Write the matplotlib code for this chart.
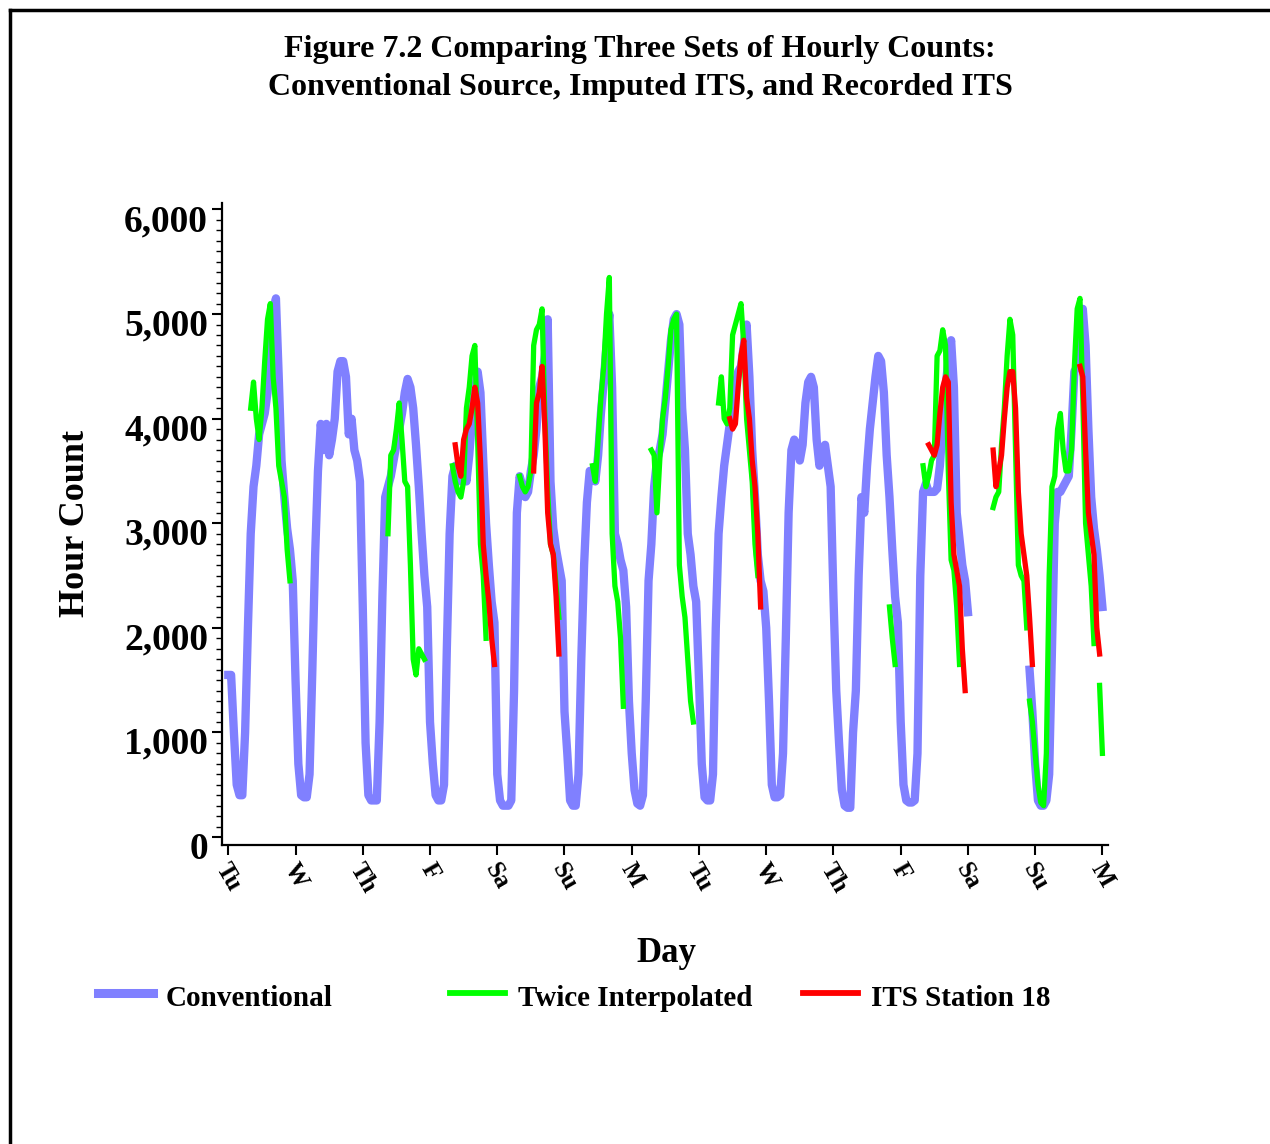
import numpy as np
import matplotlib.pyplot as plt
import matplotlib.transforms as mtransforms
from matplotlib.lines import Line2D
from matplotlib.ticker import MultipleLocator, FuncFormatter

plt.rcParams['font.family'] = ['Liberation Serif', 'DejaVu Serif']
plt.rcParams['font.weight'] = 'bold'

# hourly counts, conventional source, one list per day (Tu .. Su)
conv_tu1 = [1550, 1550, 1000, 500, 400, 400, 1000, 2000, 2900, 3350, 3550, 3850, 3950, 4050, 4250, 4600, 5000, 5150, 4400, 3600, 3250, 2950, 2750, 2450]
conv_w1 = [1500, 700, 400, 380, 380, 600, 1600, 2700, 3500, 3950, 3700, 3950, 3650, 3800, 4000, 4450, 4550, 4550, 4400, 3850, 4000, 3700, 3600, 3400]
conv_th1 = [2200, 900, 400, 350, 350, 350, 1100, 2300, 3250, 3350, 3450, 3600, 3750, 3900, 4050, 4250, 4380, 4300, 4100, 3750, 3350, 2900, 2500, 2200]
conv_f1 = [1100, 700, 400, 350, 350, 500, 1800, 2900, 3450, 3550, 3500, 3400, 3550, 3400, 3650, 4000, 4250, 4450, 4250, 3600, 3000, 2600, 2250, 2050]
conv_sa1 = [600, 350, 300, 300, 300, 350, 1400, 3100, 3450, 3350, 3250, 3300, 3500, 3650, 3900, 4300, 4400, 4600, 4950, 3400, 2950, 2750, 2600, 2450]
conv_su1 = [1200, 800, 350, 300, 300, 600, 1700, 2600, 3200, 3500, 3500, 3400, 3650, 4050, 4350, 4700, 5000, 4300, 2900, 2800, 2650, 2550, 2200, 1300]
conv_m1 = [800, 450, 320, 300, 400, 1300, 2450, 2800, 3350, 3600, 3700, 3850, 4150, 4450, 4750, 4950, 5000, 4900, 4100, 3700, 2900, 2700, 2400, 2250]
conv_tu2 = [1500, 700, 380, 350, 350, 600, 2000, 2900, 3250, 3550, 3750, 3950, 4100, 4300, 4450, 4500, 4700, 4900, 4400, 3700, 3250, 2700, 2450, 2350]
conv_w2 = [2000, 1300, 500, 380, 380, 400, 800, 1900, 3100, 3700, 3800, 3750, 3600, 3750, 4150, 4350, 4400, 4300, 3800, 3550, 3700, 3750, 3550, 3350]
conv_th2 = [2300, 1400, 900, 450, 300, 280, 280, 1000, 1400, 2500, 3250, 3100, 3550, 3900, 4150, 4400, 4600, 4550, 4250, 3650, 3250, 2750, 2300, 2050]
conv_f2 = [1100, 500, 350, 330, 330, 350, 800, 2500, 3300, 3380, 3300, 3300, 3300, 3330, 3550, 3950, 4300, 4550, 4750, 4300, 3100, 2850, 2600, 2450]
conv_sa2 = [2150] + [np.nan] * 21 + [1600, 1200]
conv_su2 = [700, 350, 300, 300, 350, 600, 1800, 3000, 3300, 3300, 3350, 3400, 3450, 3900, 4450, 4500, 4900, 5050, 4700, 3900, 3250, 2950, 2750, 2500]
conv_m2 = [2200]

# twice interpolated ITS: first hour of each piece and its values
green_start = [8, 57, 80, 104, 130, 151, 175, 236, 248, 273, 286, 311]
green_vals = [
    [4100, 4350, 4000, 3800, 4100, 4550, 4950, 5100, 4400, 4100, 3550, 3400, 3250, 2750, 2450],
    [2900, 3650, 3700, 3900, 4150, 3800, 3400, 3350, 2600, 1700, 1550, 1800, 1750, 1700],
    [3550, 3400, 3300, 3250, 3400, 4100, 4300, 4600, 4700, 3800, 2800, 2500, 1900],
    [3450, 3350, 3300, 3350, 3500, 4700, 4850, 4900, 5050, 4000, 3300, 2800, 2700, 2400, 2100],
    [3550, 3400, 3800, 4200, 4500, 5000, 5350, 2900, 2400, 2250, 1900, 1250],
    [3700, 3650, 3100, 3600, 4000, 4200, 4500, 4850, 4950, 5000, 2600, 2300, 2100, 1700, 1300, 1100],
    [4150, 4400, 4000, 3950, 4100, 4800, 4900, 5000, 5100, 4700, 4000, 3700, 3400, 2800, 2500],
    [2200, 1900, 1650],
    [3550, 3350, 3450, 3600, 3650, 4600, 4650, 4850, 4700, 3500, 2650, 2550, 2200, 1650],
    [3150, 3250, 3300, 3750, 4100, 4600, 4950, 4800, 3700, 2600, 2500, 2450, 2000],
    [1300, 1100, 800, 500, 330, 300, 800, 2500, 3350, 3450, 3900, 4050, 3700, 3500, 3500, 3700,
     4500, 5050, 5150, 4200, 3000, 2700, 2400, 1850],
    [1450, 800],
]

# recorded ITS station 18
red_start = [81, 109, 179, 250, 273, 304]
red_vals = [
    [3750, 3550, 3450, 3800, 3900, 3950, 4100, 4300, 4150, 3600, 2800, 2500, 2250, 1900, 1650],
    [3500, 4150, 4250, 4500, 3900, 3100, 2800, 2700, 2300, 1750],
    [4000, 3900, 3950, 4300, 4600, 4750, 4200, 4000, 3600, 3350, 2900, 2200],
    [3750, 3700, 3650, 3750, 4050, 4300, 4400, 4350, 3200, 2700, 2550, 2400, 1800, 1400],
    [3700, 3350, 3500, 3650, 4000, 4300, 4450, 4450, 4100, 3300, 2900, 2700, 2500, 2100, 1650],
    [4500, 4400, 3700, 3100, 2900, 2700, 2000, 1750],
]

day_labels = ['Tu', 'W', 'Th', 'F', 'Sa', 'Su', 'M', 'Tu', 'W', 'Th', 'F', 'Sa', 'Su', 'M']

BLUE = '#8080ff'
GREEN = '#00ff00'
RED = '#ff0000'

conv = np.array(conv_tu1 + conv_w1 + conv_th1 + conv_f1 + conv_sa1 + conv_su1 + conv_m1
                + conv_tu2 + conv_w2 + conv_th2 + conv_f2 + conv_sa2 + conv_su2 + conv_m2, dtype=float)
hours = np.arange(len(conv))

fig = plt.figure(figsize=(12.7, 11.44), dpi=100)
W, H = 1270, 1144
ax = fig.add_axes([222 / W, 1 - 845 / H, (1108 - 222) / W, (845 - 203) / H])

ax.plot(hours, conv, color=BLUE, lw=6)
for s, v in zip(green_start, green_vals):
    ax.plot(s + np.arange(len(v)), v, color=GREEN, lw=3.8)
for s, v in zip(red_start, red_vals):
    ax.plot(s + np.arange(len(v)), v, color=RED, lw=3.8)

ax.set_xlim(-2.25, 314)
ax.set_ylim(-76, 6062)
ax.set_xticks(np.arange(0, 24 * 13 + 1, 24))
ax.set_xticklabels(day_labels, rotation=-60, ha='center', va='top', fontsize=18)
ax.yaxis.set_major_locator(MultipleLocator(1000))
ax.yaxis.set_minor_locator(MultipleLocator(100))
ax.yaxis.set_major_formatter(FuncFormatter(lambda v, p: f'{int(v):,}'))

for sp in ['top', 'right']:
    ax.spines[sp].set_visible(False)
for sp in ['left', 'bottom']:
    ax.spines[sp].set_linewidth(1.6)
ax.tick_params(axis='both', which='major', direction='out', length=7, width=1.5)
ax.tick_params(axis='y', which='minor', direction='out', length=4, width=1)
ax.tick_params(axis='y', which='major', pad=3, labelsize=27)
ax.tick_params(axis='x', which='major', pad=3)

# y tick labels sit a little below their ticks in the original
shift = mtransforms.ScaledTranslation(0, -8 / 100, fig.dpi_scale_trans)
for lab in ax.get_yticklabels():
    lab.set_transform(lab.get_transform() + shift)

# titles and axis names
fig.text(640 / W, 1 - 50 / H, 'Figure 7.2 Comparing Three Sets of Hourly Counts:',
         ha='center', va='center', fontsize=23)
fig.text(640 / W, 1 - 88 / H, 'Conventional Source, Imputed ITS, and Recorded ITS',
         ha='center', va='center', fontsize=23)
fig.text(75 / W, 1 - 523 / H, 'Hour Count', rotation=90, ha='center', va='center', fontsize=26)
fig.text(666 / W, 1 - 953 / H, 'Day', ha='center', va='center', fontsize=25)

# legend row
legend_items = [('Conventional', BLUE, 98, 6.5), ('Twice Interpolated', GREEN, 450, 4.2),
                ('ITS Station 18', RED, 803, 4.2)]
for name, col, x0, lw in legend_items:
    fig.add_artist(Line2D([x0 / W, (x0 + 55) / W], [1 - 993 / H, 1 - 993 / H], color=col, lw=lw))
    fig.text((x0 + 68) / W, 1 - 999 / H, name, ha='left', va='center', fontsize=21)

# page frame
fig.add_artist(Line2D([10 / W, 1.0], [1 - 10 / H, 1 - 10 / H], color='black', lw=2.5))
fig.add_artist(Line2D([10 / W, 10 / W], [0.0, 1 - 10 / H], color='black', lw=2.5))

fig.savefig('out.png', dpi=100)
